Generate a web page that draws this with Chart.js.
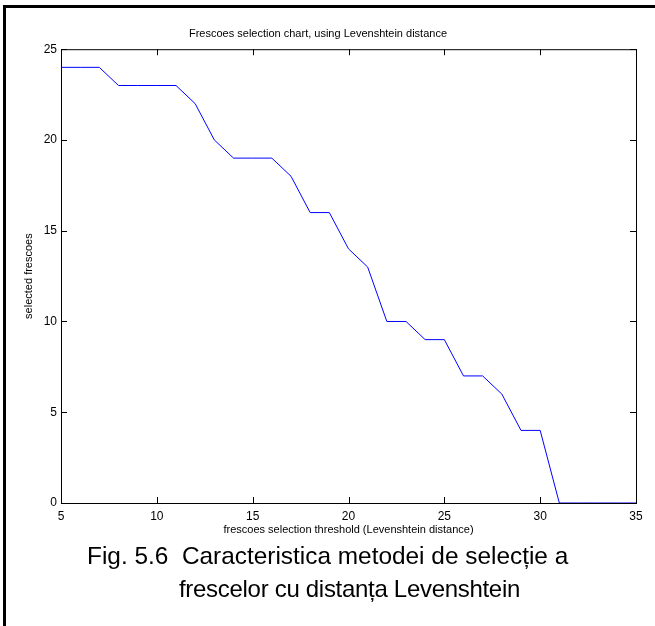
<!DOCTYPE html>
<html>
<head>
<meta charset="utf-8">
<script src="https://cdn.jsdelivr.net/npm/chart.js@4"></script>
<style>
  body { margin: 0; background: #fff; }
  #fig { position: relative; width: 655px; height: 626px; overflow: hidden; font-family: "Liberation Sans", Arial, sans-serif; }
  #rama { position: absolute; left: 3px; top: 5px; width: 700px; height: 700px; border-left: 3px solid #000; border-top: 3px solid #000; }
  #grafic { position: absolute; left: 0; top: 0; }
  .legenda { position: absolute; color: #000; white-space: pre; font-size: 24px; }
</style>
</head>
<body>
<div id="fig">
  <div id="rama"></div>
  <canvas id="grafic" width="655" height="626"></canvas>
  <div class="legenda" style="top:542px; left:87px; font-size:24.4px">Fig. 5.6  Caracteristica metodei de selecție a</div>
  <div class="legenda" style="top:575px; left:179px; letter-spacing:-0.3px">frescelor cu distanța Levenshtein</div>
</div>
<script>
// pragul de selectie (distanta Levenshtein) si numarul de fresce selectate
const praguri = [5, 6, 7, 8, 9, 10, 11, 12, 13, 14, 15, 16, 17, 18, 19, 20, 21, 22, 23, 24, 25, 26, 27, 28, 29, 30, 31, 32, 33, 34, 35];
const frescSelectate = [24, 24, 24, 23, 23, 23, 23, 22, 20, 19, 19, 19, 18, 16, 16, 14, 13, 10, 10, 9, 9, 7, 7, 6, 4, 4, 0, 0, 0, 0, 0];
const ticksX = [5, 10, 15, 20, 25, 30, 35];
const ticksY = [0, 5, 10, 15, 20, 25];

const puncte = praguri.map((p, i) => ({ x: p, y: frescSelectate[i] }));

// cadrul graficului cu liniute spre interior (stil MATLAB)
const cadru = {
  id: "cadru",
  afterDraw(chart) {
    const { ctx, chartArea: a, scales } = chart;
    const L = 6;
    ctx.save();
    ctx.strokeStyle = "#000";
    ctx.lineWidth = 1;
    ctx.strokeRect(a.left + 0.5, a.top + 0.5, a.right - a.left, a.bottom - a.top);
    ctx.beginPath();
    ticksX.forEach(v => {
      const px = Math.round(scales.x.getPixelForValue(v)) + 0.5;
      ctx.moveTo(px, a.bottom); ctx.lineTo(px, a.bottom - L);
      ctx.moveTo(px, a.top); ctx.lineTo(px, a.top + L);
    });
    ticksY.forEach(v => {
      const py = Math.round(scales.y.getPixelForValue(v)) + 0.5;
      ctx.moveTo(a.left, py); ctx.lineTo(a.left + L, py);
      ctx.moveTo(a.right, py); ctx.lineTo(a.right - L, py);
    });
    ctx.stroke();
    ctx.restore();
  }
};

const font = "'Liberation Sans', Arial, sans-serif";

new Chart(document.getElementById("grafic").getContext("2d"), {
  type: "line",
  data: {
    datasets: [{
      data: puncte,
      borderColor: "#0000ff",
      borderWidth: 1,
      pointRadius: 0,
      tension: 0,
      clip: false
    }]
  },
  options: {
    responsive: false,
    animation: false,
    layout: { padding: { left: 0, right: 19, top: 0, bottom: 86 } },
    plugins: {
      legend: { display: false },
      tooltip: { enabled: false },
      title: {
        display: true,
        text: "Frescoes selection chart, using Levenshtein distance",
        color: "#000",
        font: { family: font, size: 11, weight: "normal" },
        padding: { top: 27, bottom: 9 }
      }
    },
    scales: {
      x: {
        type: "linear",
        min: 5,
        max: 35,
        afterFit(s) { s.height = 37; },
        afterBuildTicks(s) { s.ticks = ticksX.map(v => ({ value: v })); },
        grid: { display: false, drawTicks: false },
        border: { display: false },
        ticks: { color: "#000", padding: 6, font: { family: font, size: 12 } },
        title: {
          display: true,
          text: "frescoes selection threshold (Levenshtein distance)",
          color: "#000",
          font: { family: font, size: 11 },
          padding: { top: 0, bottom: 3 }
        }
      },
      y: {
        min: 0,
        max: 25,
        afterFit(s) { s.width = 61; },
        afterBuildTicks(s) { s.ticks = ticksY.map(v => ({ value: v })); },
        grid: { display: false, drawTicks: false },
        border: { display: false },
        ticks: { color: "#000", padding: 4, font: { family: font, size: 12 } },
        title: {
          display: true,
          text: "selected frescoes",
          color: "#000",
          font: { family: font, size: 11 },
          padding: { top: 22, bottom: 0 }
        }
      }
    }
  },
  plugins: [cadru]
});
</script>
</body>
</html>
